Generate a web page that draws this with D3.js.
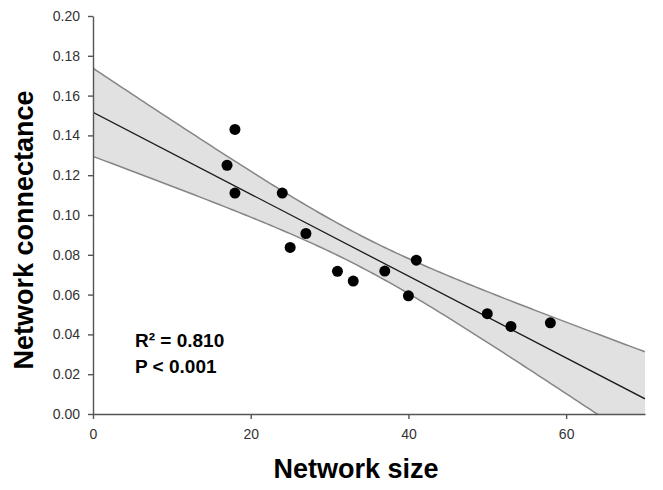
<!DOCTYPE html>
<html>
<head>
<meta charset="utf-8">
<script src="https://cdn.jsdelivr.net/npm/d3@7"></script>
<style>
  body { margin: 0; background: #fff; }
  svg { display: block; font-family: "Liberation Sans", Arial, sans-serif; }
  .axis path, .axis line { stroke: #555; stroke-width: 1.4px; }
  .axis text { fill: #333; font-size: 14px; }
</style>
</head>
<body>
<svg id="chart" width="663" height="490"></svg>
<script>

// network size (x) vs connectance (y)
var networkSize = [17, 18, 18, 24, 25, 27, 31, 33, 37, 40, 41, 50, 53, 58];
var connectance = [0.125, 0.143, 0.111, 0.111, 0.0837, 0.0907, 0.0717, 0.0668, 0.0718, 0.0594, 0.0773, 0.0504, 0.044, 0.0458];

var xTicks = [0, 20, 40, 60];
var yTicks = [0, 0.02, 0.04, 0.06, 0.08, 0.10, 0.12, 0.14, 0.16, 0.18, 0.20];
var statLines = ["R\u00B2 = 0.810", "P < 0.001"];

var tValue = 2.179; // t(0.975, df = 12)

var svg = d3.select('#chart');

var x = d3.scaleLinear().domain([0, 70]).range([93, 645]);
var y = d3.scaleLinear().domain([0, 0.2]).range([414, 16]);

// least squares fit + 95% confidence band
var n = networkSize.length,
    mx = d3.mean(networkSize),
    my = d3.mean(connectance),
    sxx = d3.sum(networkSize, function(d) { return (d - mx) * (d - mx); }),
    sxy = d3.sum(networkSize, function(d, i) { return (d - mx) * (connectance[i] - my); }),
    slope = sxy / sxx,
    icpt = my - slope * mx,
    sse = d3.sum(networkSize, function(d, i) { var r = connectance[i] - (icpt + slope * d); return r * r; }),
    s = Math.sqrt(sse / (n - 2));

function fit(v) { return icpt + slope * v; }
function half(v) { return tValue * s * Math.sqrt(1 / n + (v - mx) * (v - mx) / sxx); }

var xs = d3.range(0, 70.01, 0.5);

svg.append('defs').append('clipPath').attr('id', 'plotclip')
  .append('rect').attr('x', x(0)).attr('y', y(0.2)).attr('width', x(70) - x(0)).attr('height', y(0) - y(0.2));

var plot = svg.append('g').attr('clip-path', 'url(#plotclip)');

plot.append('path')
  .datum(xs)
  .attr('fill', '#e1e1e1')
  .attr('d', d3.area()
    .x(function(d) { return x(d); })
    .y0(function(d) { return y(fit(d) - half(d)); })
    .y1(function(d) { return y(fit(d) + half(d)); }));

[1, -1].forEach(function(sign) {
  plot.append('path')
    .datum(xs)
    .attr('fill', 'none')
    .attr('stroke', '#858585')
    .attr('stroke-width', 1.5)
    .attr('d', d3.line()
      .x(function(d) { return x(d); })
      .y(function(d) { return y(fit(d) + sign * half(d)); }));
});

plot.append('line')
  .attr('x1', x(0)).attr('x2', x(70))
  .attr('y1', y(fit(0))).attr('y2', y(fit(70)))
  .attr('stroke', '#1a1a1a')
  .attr('stroke-width', 1.3);

svg.append('g').selectAll('circle')
  .data(networkSize)
  .enter().append('circle')
  .attr('cx', function(d) { return x(d); })
  .attr('cy', function(d, i) { return y(connectance[i]); })
  .attr('r', 5.5)
  .attr('fill', '#000');

// axes
svg.append('g').attr('class', 'axis')
  .attr('transform', 'translate(0,' + y(0) + ')')
  .call(d3.axisBottom(x).tickValues(xTicks).tickSize(5).tickSizeOuter(0).tickPadding(10).tickFormat(d3.format('d')));

svg.append('g').attr('class', 'axis')
  .attr('transform', 'translate(' + x(0) + ',0)')
  .call(d3.axisLeft(y).tickValues(yTicks).tickSize(5).tickSizeOuter(0).tickPadding(8).tickFormat(d3.format('.2f')));

svg.selectAll('.axis .domain').attr('stroke', '#555');

// titles
svg.append('text')
  .attr('x', 356).attr('y', 478)
  .attr('text-anchor', 'middle')
  .style('font-size', '27px').style('font-weight', 'bold')
  .text('Network size');

svg.append('text')
  .attr('transform', 'translate(33,230) rotate(-90)')
  .attr('text-anchor', 'middle')
  .style('font-size', '27px').style('font-weight', 'bold')
  .text('Network connectance');

svg.append('g').selectAll('text')
  .data(statLines)
  .enter().append('text')
  .attr('x', 135)
  .attr('y', function(d, i) { return 347 + i * 26; })
  .style('font-size', '19px').style('font-weight', 'bold')
  .text(function(d) { return d; });

</script>
</body>
</html>
